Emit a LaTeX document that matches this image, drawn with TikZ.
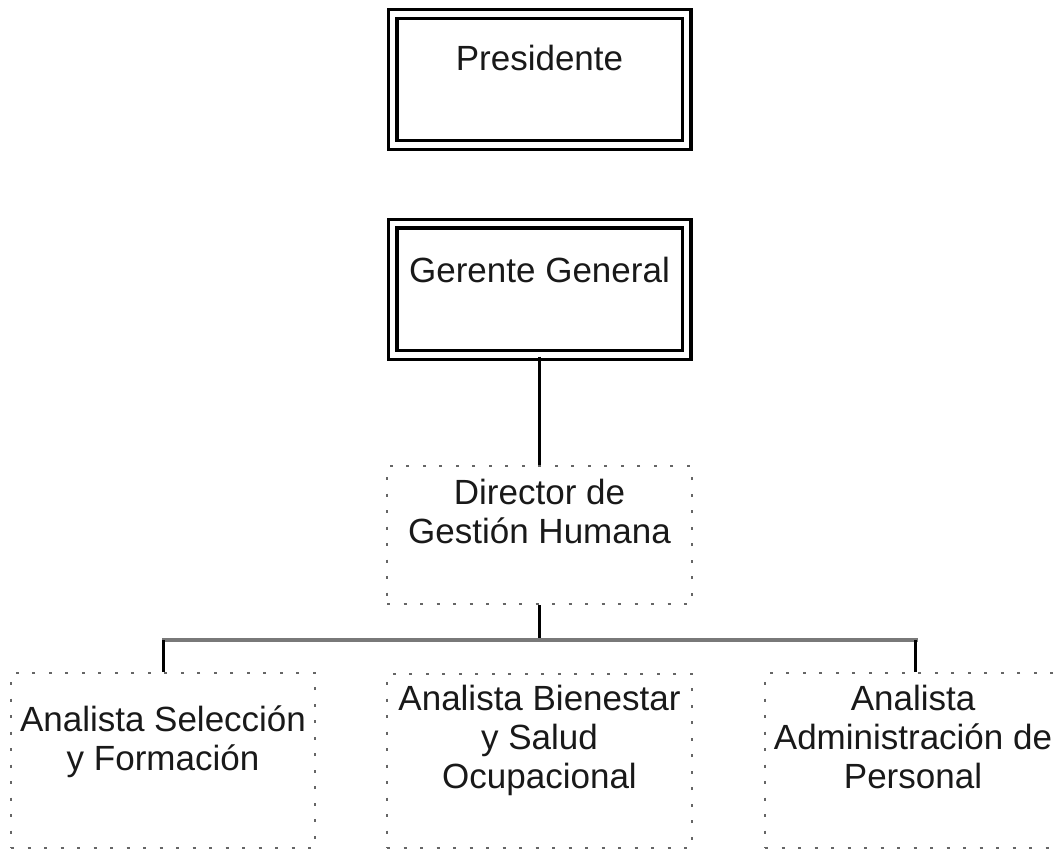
\documentclass[tikz,border=0pt]{standalone}
\usepackage{fontspec}
\setmainfont{Liberation Sans}
\begin{document}
\begin{tikzpicture}[x=1pt,y=-1pt,
  dblbox/.style={draw=black, line width=3.2pt, double=white, double distance=5.6pt,
    inner sep=0pt, minimum width=294pt, minimum height=131.5pt},
  dotbox/.style={draw=gray!80!black, line width=2.6pt, dash pattern=on 3pt off 13.5pt,
    inner sep=0pt},
  txt/.style={anchor=base, align=center, text=black!90,
    font=\fontsize{35}{39}\selectfont, inner sep=0pt},
  solidlink/.style={draw=black, line width=3.5pt},
  buslink/.style={draw=gray!95!black, line width=4.5pt}
]
\useasboundingbox (0,0) rectangle (1055,849);
\clip (0,0) rectangle (1055,849);

% boxes
\node[dblbox] (pres) at (539.5,79.5) {};
\node[dblbox] (ger) at (539.5,289.25) {};
\node[dotbox, minimum width=305pt, minimum height=138pt] (dir) at (539.5,535) {};
\node[dotbox, minimum width=304pt, minimum height=175pt] (sel) at (163,760.5) {};
\node[dotbox, minimum width=305pt, minimum height=174pt] (bien) at (539.5,761) {};
\node[dotbox, minimum width=304pt, minimum height=175pt] (adm) at (917,760.5) {};

% labels (base anchor sits on the last line's baseline)
\node[txt] (presT) at (539.5,70) {Presidente};
\node[txt] (gerT) at (539.5,282) {Gerente General};
\node[txt] (dirT) at (539.5,543) {Director de\\Gestión Humana};
\node[txt] (selT) at (163,770) {Analista Selección\\y Formación};
\node[txt] (bienT) at (539.5,788) {Analista Bienestar\\y Salud\\Ocupacional};
\node[txt] (admT) at (913,788) {Analista\\Administración de\\Personal};

% connectors
\coordinate (bus) at (0,640);
\draw[solidlink] (ger.south) -- (dir.north);
\draw[solidlink] (dir.south) -- (dir.south |- bus);
\draw[buslink] ([xshift=-1pt]sel.north |- bus) -- ([xshift=1pt]adm.north |- bus);
\draw[solidlink, line width=3pt] (sel.north |- bus) -- (sel.north);
\draw[solidlink, line width=3pt] ([xshift=-2pt]adm.north |- bus) -- ([xshift=-2pt]adm.north);
\end{tikzpicture}
\end{document}
